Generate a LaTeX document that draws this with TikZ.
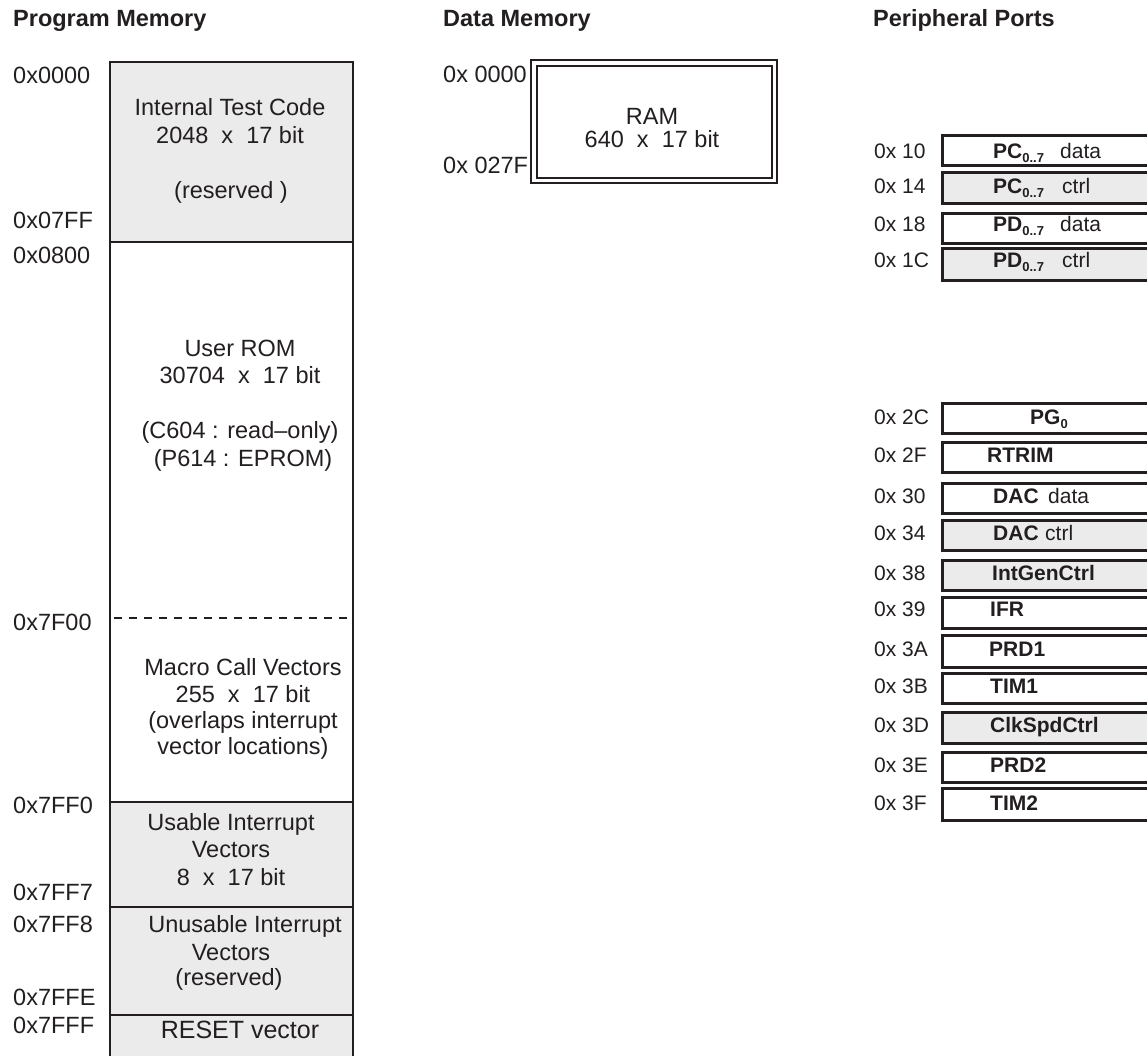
\documentclass[tikz,border=0pt]{standalone}
\usepackage{fontspec}
\setmainfont{Liberation Sans}
\definecolor{ink}{RGB}{35,31,32}
\definecolor{lgray}{RGB}{235,235,235}
\tikzset{
  hdr/.style={anchor=base west, inner sep=0pt, font=\fontsize{23.5}{28}\selectfont\bfseries, text=ink},
  addr/.style={anchor=base west, inner sep=0pt, font=\fontsize{23.5}{28}\selectfont, text=ink},
  txt/.style={anchor=base, inner sep=0pt, font=\fontsize{23.5}{28}\selectfont, text=ink},
  paddr/.style={anchor=base west, inner sep=0pt, font=\fontsize{21}{25}\selectfont, text=ink},
  ptxt/.style={anchor=base west, inner sep=0pt, font=\fontsize{21}{25}\selectfont, text=ink},
  border/.style={draw=ink, line width=2.4pt},
  ramline/.style={draw=ink, line width=1.6pt},
  pbox/.style={draw=ink, line width=3pt},
}
\newcommand{\psub}[1]{\raisebox{-4pt}{\fontsize{13}{13}\selectfont\bfseries #1}}
\begin{document}
\begin{tikzpicture}[x=1pt,y=-1pt]
\useasboundingbox (0,0) rectangle (1147,1055);
\clip (0,0) rectangle (1147,1055);
\fill[white] (0,0) rectangle (1147,1055);

% ---------- headers
\node[hdr] (h1) at (13,26) {Program Memory};
\node[hdr] (h2) at (443,26) {Data Memory};
\node[hdr] (h3) at (873,26) {Peripheral Ports};

% ---------- program memory
\fill[lgray] (110,62) rectangle (353,242);
\fill[lgray] (110,802) rectangle (353,1080);
\draw[border] (110,1080) -- (110,62) -- (353,62) -- (353,1080);
\draw[border] (110,242) -- (353,242);
\draw[border] (110,802) -- (353,802);
\draw[border] (110,907) -- (353,907);
\draw[border] (110,1015) -- (353,1015);
\draw[draw=ink, line width=2.4pt, dash pattern=on 8pt off 7pt] (114,618) -- (353,618);

\node[addr] (a0000) at (13,83) {0x0000};
\node[addr] (a07FF) at (13,228) {0x07FF};
\node[addr] (a0800) at (13,263) {0x0800};
\node[addr] (a7F00) at (13,630) {0x7F00};
\node[addr] (a7FF0) at (13,813) {0x7FF0};
\node[addr] (a7FF7) at (13,900) {0x7FF7};
\node[addr] (a7FF8) at (13,932) {0x7FF8};
\node[addr] (a7FFE) at (13,1005) {0x7FFE};
\node[addr] (a7FFF) at (13,1033) {0x7FFF};

\node[txt] (itc1) at (230,115) {Internal Test Code};
\node[txt] (itc2) at (230,143) {2048\ \ x\ \ 17 bit};
\node[txt] (itc3) at (231,198) {(reserved )};

\node[txt] (rom1) at (240,356) {User ROM};
\node[txt] (rom2) at (240,383) {30704\ \ x\ \ 17 bit};
\node[txt] (rom3) at (240,438) {(C604 : read–only)};
\node[txt] (rom4) at (243,466) {(P614 : EPROM)};

\node[txt] (mcv1) at (243,675) {Macro Call Vectors};
\node[txt] (mcv2) at (243,702) {255\ \ x\ \ 17 bit};
\node[txt] (mcv3) at (243,728) {(overlaps interrupt};
\node[txt] (mcv4) at (243,754) {vector locations)};

\node[txt] (uiv1) at (231,830) {Usable Interrupt};
\node[txt] (uiv2) at (231,857) {Vectors};
\node[txt] (uiv3) at (231,885) {8\ \ x\ \ 17 bit};

\node[txt] (niv1) at (245,932) {Unusable Interrupt};
\node[txt] (niv2) at (231,960) {Vectors};
\node[txt] (niv3) at (229,985) {(reserved)};

\node[txt, font=\fontsize{25}{30}\selectfont] (rst) at (240,1038) {RESET vector};

% ---------- data memory
\draw[ramline] (531,60) rectangle (777,183);
\draw[ramline] (537,66) rectangle (772,178);
\node[addr] (d0000) at (443,82) {0x 0000};
\node[addr] (d027F) at (443,173) {0x 027F};
\node[txt] (ram1) at (652,124) {RAM};
\node[txt] (ram2) at (652,147) {640\ \ x\ \ 17 bit};

% ---------- peripheral ports
\foreach \t/\b/\bl/\a/\f [count=\i] in {
  135/165/158/0x 10/white,
  172/203/193/0x 14/lgray,
  213/243/231/0x 18/white,
  248/280/267/0x 1C/lgray,
  403/433/424/0x 2C/white,
  442/472/462/0x 2F/white,
  483/513/503/0x 30/white,
  520/550/540/0x 34/lgray,
  560/590/580/0x 38/lgray,
  597/628/616/0x 39/white,
  635/667/656/0x 3A/white,
  673/703/693/0x 3B/white,
  712/743/732/0x 3D/lgray,
  752/782/772/0x 3E/white,
  788/820/810/0x 3F/white} {
  \filldraw[pbox, fill=\f] (942,\t) rectangle (1170,\b);
  \node[paddr] (pa\i) at (874,\bl) {\a};
}

\node[ptxt] (p1) at (993,158) {\textbf{PC\psub{0..7}}};
\node[ptxt] (p1b) at (1060,158) {data};
\node[ptxt] (p2) at (993,193) {\textbf{PC\psub{0..7}}};
\node[ptxt] (p2b) at (1062,193) {ctrl};
\node[ptxt] (p3) at (993,231) {\textbf{PD\psub{0..7}}};
\node[ptxt] (p3b) at (1060,231) {data};
\node[ptxt] (p4) at (993,267) {\textbf{PD\psub{0..7}}};
\node[ptxt] (p4b) at (1062,267) {ctrl};

\node[ptxt] (p5) at (1030,424) {\textbf{PG\psub{0}}};
\node[ptxt] (p6) at (987,462) {\textbf{RTRIM}};
\node[ptxt] (p7) at (993,503) {\textbf{DAC}};
\node[ptxt] (p7b) at (1048,503) {data};
\node[ptxt] (p8) at (993,540) {\textbf{DAC}};
\node[ptxt] (p8b) at (1045,540) {ctrl};
\node[ptxt] (p9) at (992,580) {\textbf{IntGenCtrl}};
\node[ptxt] (p10) at (990,616) {\textbf{IFR}};
\node[ptxt] (p11) at (989,656) {\textbf{PRD1}};
\node[ptxt] (p12) at (990,693) {\textbf{TIM1}};
\node[ptxt] (p13) at (990,732) {\textbf{ClkSpdCtrl}};
\node[ptxt] (p14) at (990,772) {\textbf{PRD2}};
\node[ptxt] (p15) at (990,810) {\textbf{TIM2}};
\end{tikzpicture}
\end{document}
